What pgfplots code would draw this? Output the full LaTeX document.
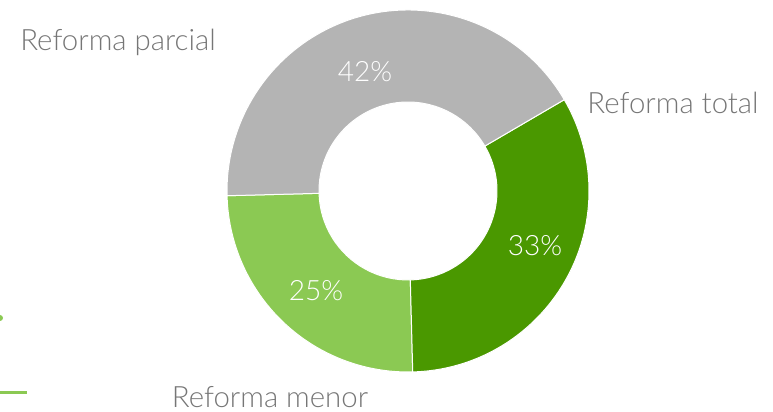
\documentclass[border=0pt]{standalone}
\usepackage{pgfplots}
\usepackage{pgfplotstable}
\pgfplotsset{compat=1.18}
\usetikzlibrary{calc}
\usepackage{fontspec}
\setmainfont{Lato}[UprightFont=* Light]

\definecolor{cgray}{RGB}{180,180,180}
\definecolor{cdark}{RGB}{74,152,0}
\definecolor{clight}{RGB}{139,201,83}
\definecolor{ctext}{RGB}{118,118,118}

% shares in percent, drawn counter-clockwise from the left
\pgfplotstableread{
label value
menor 25
total 33
parcial 42
}\shares

\begin{document}
\begin{tikzpicture}
\pgfplotstablegetelem{0}{value}\of\shares \let\va\pgfplotsretval
\pgfplotstablegetelem{1}{value}\of\shares \let\vb\pgfplotsretval
\pgfplotstablegetelem{2}{value}\of\shares \let\vc\pgfplotsretval
\pgfmathsetmacro\aA{181.5}
\pgfmathsetmacro\aB{\aA+3.6*\va}
\pgfmathsetmacro\aC{\aB+3.6*\vb}
\pgfmathsetmacro\aD{\aC+3.6*\vc}
\def\R{90.5pt}
\def\r{44.5pt}
\begin{axis}[
    name=main,
    scale only axis,
    width=386.5pt, height=206pt,
    xmin=0, xmax=773, ymin=0, ymax=412,
    hide axis,
    clip=false
]
\coordinate (c) at (axis cs:408,221);
\fill[clight, draw=white, line width=0.5pt] (c) ++(\aA:\R) arc[start angle=\aA, end angle=\aB, radius=\R]
    -- ($(c)+(\aB:\r)$) arc[start angle=\aB, end angle=\aA, radius=\r] -- cycle;
\fill[cdark, draw=white, line width=0.5pt] (c) ++(\aB:\R) arc[start angle=\aB, end angle=\aC, radius=\R]
    -- ($(c)+(\aC:\r)$) arc[start angle=\aC, end angle=\aB, radius=\r] -- cycle;
\fill[cgray, draw=white, line width=0.5pt] (c) ++(\aC:\R) arc[start angle=\aC, end angle=\aD, radius=\R]
    -- ($(c)+(\aD:\r)$) arc[start angle=\aD, end angle=\aC, radius=\r] -- cycle;

\node[white, font=\fontsize{14}{16}\selectfont] at (axis cs:365,340) {\vc\%};
\node[white, font=\fontsize{14}{16}\selectfont] at (axis cs:535,166) {\vb\%};
\node[white, font=\fontsize{14}{16}\selectfont] at (axis cs:316,121) {\va\%};

\node[ctext, font=\fontsize{14.7}{16}\selectfont] at (axis cs:118,370) {Reforma parcial};
\node[ctext, font=\fontsize{14.7}{16}\selectfont] at (axis cs:673,309) {Reforma total};
\node[ctext, font=\fontsize{14.7}{16}\selectfont] at (axis cs:270,15) {Reforma menor};

% stray marks at the left edge
\fill[clight] (axis cs:0,94) circle[radius=1.5pt];
\draw[clight, line width=1.5pt] (axis cs:0,19) -- (axis cs:27,19);
\end{axis}
\pgfresetboundingbox
\path[use as bounding box] (main.south west) rectangle (main.north east);
\end{tikzpicture}
\end{document}
